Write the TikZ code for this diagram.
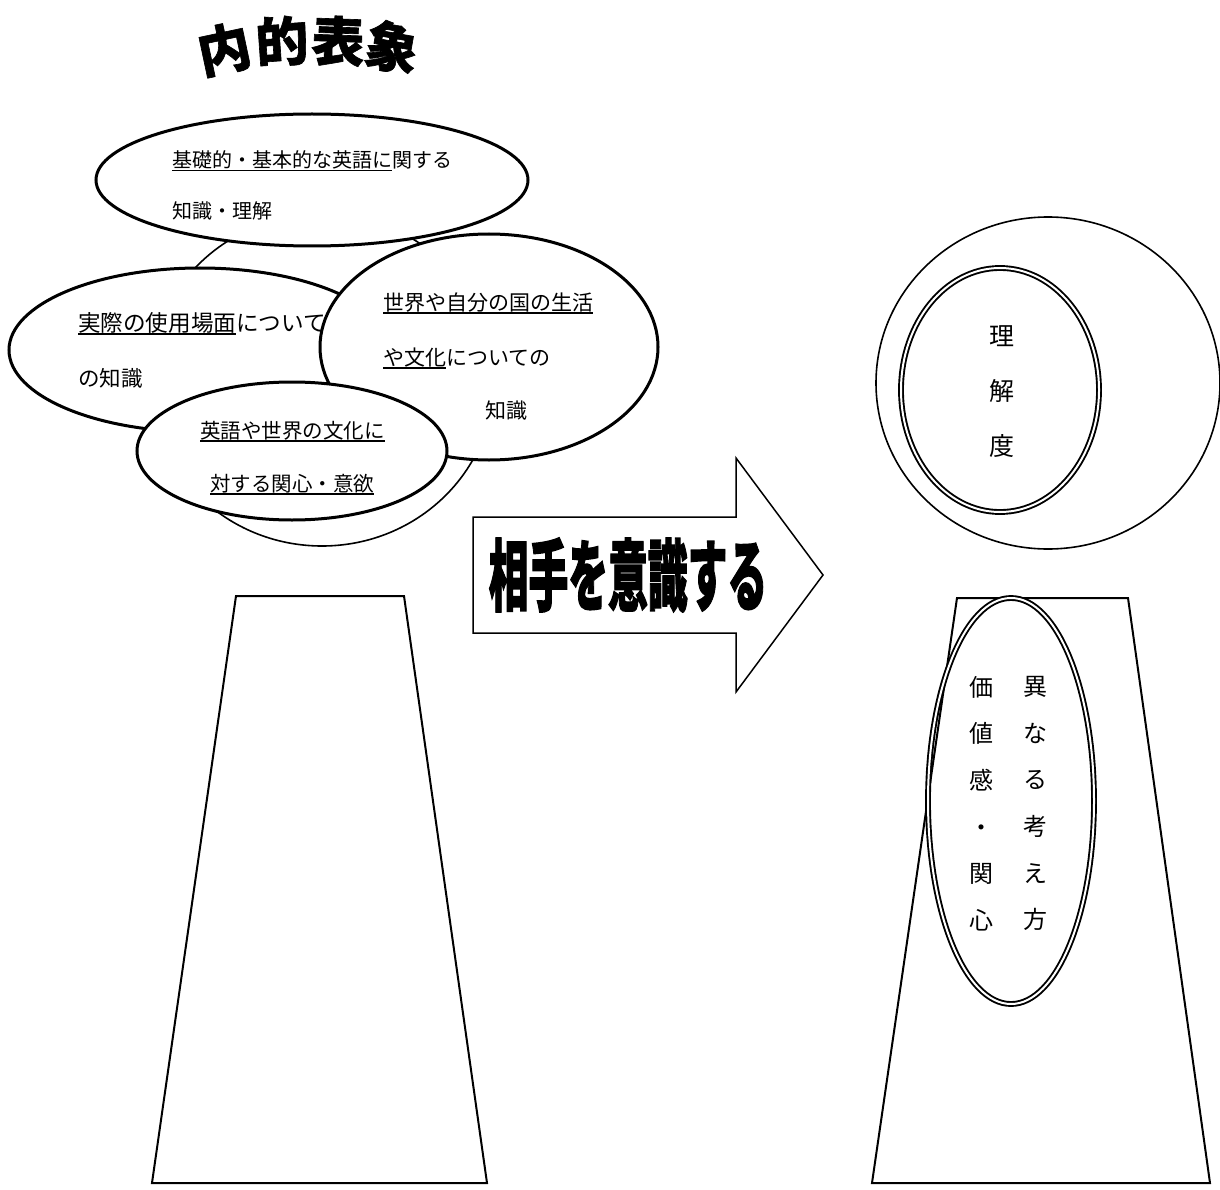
\documentclass[tikz,border=0pt]{standalone}
\usepackage{fontspec}
\usepackage{graphicx}
\newfontfamily\jp{Noto Sans CJK JP}
\newfontfamily\jpheavy{Noto Sans CJK JP}[FakeBold=2]
\newfontfamily\jptitle{Noto Sans CJK JP}[FakeBold=1.2]
\newsavebox\ulbox
\newcommand\myuline[1]{\sbox\ulbox{#1}\rlap{\usebox\ulbox}\rule[-3.5pt]{\wd\ulbox}{1.3pt}}
\begin{document}
\begin{tikzpicture}[x=1pt,y=-1pt,
  ell/.style={line width=3pt, fill=white},
  thinline/.style={line width=1.6pt},
  dbl/.style={double, double distance=2pt, line width=1.9pt},
  txt/.style={anchor=base west, inner sep=0pt, outer sep=0pt},
  titlech/.style={inner sep=0pt, font=\jptitle\bfseries\fontsize{53}{58}\selectfont},
  vcol/.style={inner sep=0pt, align=center}]
\useasboundingbox[fill=white] (0,0) rectangle (1220,1190);

% title
\node[titlech, rotate=12] (ti1) at (224,49) {内};
\node[titlech, rotate=4] (ti2) at (282,41) {的};
\node[titlech, rotate=-2] (ti3) at (338,41) {表};
\node[titlech, rotate=-10] (ti4) at (392,47) {象};

% background ellipse of the cluster
\draw[thinline] (322,380) ellipse [x radius=172, y radius=166];

% top ellipse
\filldraw[ell] (312,180) ellipse [x radius=216, y radius=66];
\node[txt, font=\jp\fontsize{20}{24}\selectfont] (t1a) at (172,168) {\myuline{基礎的・基本的な英語に}関する};
\node[txt, font=\jp\fontsize{20}{24}\selectfont] (t1b) at (172,219) {知識・理解};

% left ellipse
\filldraw[ell] (200,350) ellipse [x radius=191, y radius=82];
\node[txt, font=\jp\fontsize{22.6}{26}\selectfont] (t2a) at (78,331) {\myuline{実際の使用場面}について};
\node[txt, font=\jp\fontsize{21.5}{26}\selectfont] (t2b) at (78,386) {の知識};

% right ellipse
\filldraw[ell] (489,347) ellipse [x radius=169, y radius=113];
\node[txt, font=\jp\fontsize{21}{25}\selectfont] (t3a) at (383,310) {\myuline{世界や自分の国の生活}};
\node[txt, font=\jp\fontsize{21}{25}\selectfont] (t3b) at (383,365) {\myuline{や文化}についての};
\node[txt, font=\jp\fontsize{21}{25}\selectfont] (t3c) at (485,418) {知識};

% bottom ellipse
\filldraw[ell] (292,451) ellipse [x radius=155, y radius=69];
\node[txt, font=\jp\fontsize{20.5}{25}\selectfont] (t4a) at (200,438) {\myuline{英語や世界の文化に}};
\node[txt, font=\jp\fontsize{20.5}{25}\selectfont] (t4b) at (210,491) {\myuline{対する関心・意欲}};

% arrow
\draw[line width=1.5pt, line join=miter] (473,517) -- (736,517) -- (736,458) -- (823,575) -- (736,692) -- (736,633) -- (473,633) -- cycle;
\node[inner sep=0pt] (arrtxt) at (628,575) {\scalebox{0.51}[1]{\jpheavy\bfseries\fontsize{78}{80}\selectfont 相手を意識する}};

% left trapezoid
\draw[line width=2pt, line join=miter] (236,596) -- (404,596) -- (487,1183) -- (152,1183) -- cycle;

% right trapezoid
\draw[line width=2pt, line join=miter] (957,598) -- (1128,598) -- (1210,1183) -- (872,1183) -- cycle;

% right circle
\draw[thinline] (1048,383) ellipse [x radius=172, y radius=166];
\draw[dbl] (1000,390) ellipse [x radius=99, y radius=122];
\node[vcol, font=\jp\fontsize{25}{55}\selectfont] (rikai) at (1002,392) {理\\解\\度};

% tall ellipse
\draw[dbl] (1011,801) ellipse [x radius=83, y radius=203];
\node[vcol, font=\jp\fontsize{24}{46.6}\selectfont] (colR) at (1035,803.5) {異\\な\\る\\考\\え\\方};
\node[vcol, font=\jp\fontsize{24}{46.6}\selectfont] (colL) at (981,803.5) {価\\値\\感\\・\\関\\心};
\end{tikzpicture}
\end{document}
